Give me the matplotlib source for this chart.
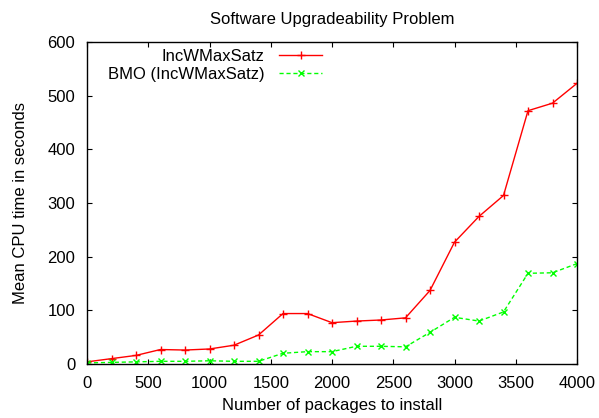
import matplotlib
matplotlib.use('Agg')
import matplotlib.pyplot as plt

plt.rcParams['font.family'] = ['Liberation Sans', 'DejaVu Sans']

packages = [0, 200, 400, 600, 800, 1000, 1200, 1400, 1600, 1800, 2000,
            2200, 2400, 2600, 2800, 3000, 3200, 3400, 3600, 3800, 4000]
incw = [4, 10, 16, 27, 26, 28, 35, 54, 94, 94, 77,
        80, 82, 86, 137, 227, 275, 314, 472, 486, 523]
bmo = [2, 3, 4, 5, 5, 6, 5, 5, 20, 23, 23,
       33, 33, 32, 59, 87, 80, 97, 169, 170, 187]

fig = plt.figure(figsize=(5.99, 4.18), dpi=100)
ax = fig.add_axes([87/599, 1-364/418, (577-87)/599, (364-42)/418])

l1, = ax.plot(packages, incw, color='#ff0000', lw=1, marker='+', ms=6, mew=1)
l2, = ax.plot(packages, bmo, color='#00ff00', lw=1, ls=(0, (3, 2)), marker='x',
              ms=5, mew=1)

ax.set_xlim(0, 4000)
ax.set_ylim(0, 600)
ax.set_xticks(range(0, 4001, 500))
ax.set_yticks(range(0, 601, 100))
ax.tick_params(direction='in', top=True, right=True, length=3.5, labelsize=12, pad=8.5)
for s in ax.spines.values():
    s.set_linewidth(1)

ax.set_title('Software Upgradeability Problem', fontsize=12, pad=13)
ax.set_xlabel('Number of packages to install', fontsize=12, labelpad=5)
ax.set_ylabel('Mean CPU time in seconds', fontsize=12, labelpad=14)

# gnuplot style key: text right-aligned, sample on the right
kw = dict(loc='center right', markerfirst=False, frameon=False, fontsize=12,
          handlelength=2.6, handletextpad=0.85, borderpad=0, borderaxespad=0)
leg1 = ax.legend([l1], ['IncWMaxSatz'], bbox_to_anchor=(0.48, 0.955), **kw)
ax.add_artist(leg1)
ax.legend([l2], ['BMO (IncWMaxSatz)'], bbox_to_anchor=(0.48, 0.900), **kw)

fig.savefig('out.png', dpi=100)
